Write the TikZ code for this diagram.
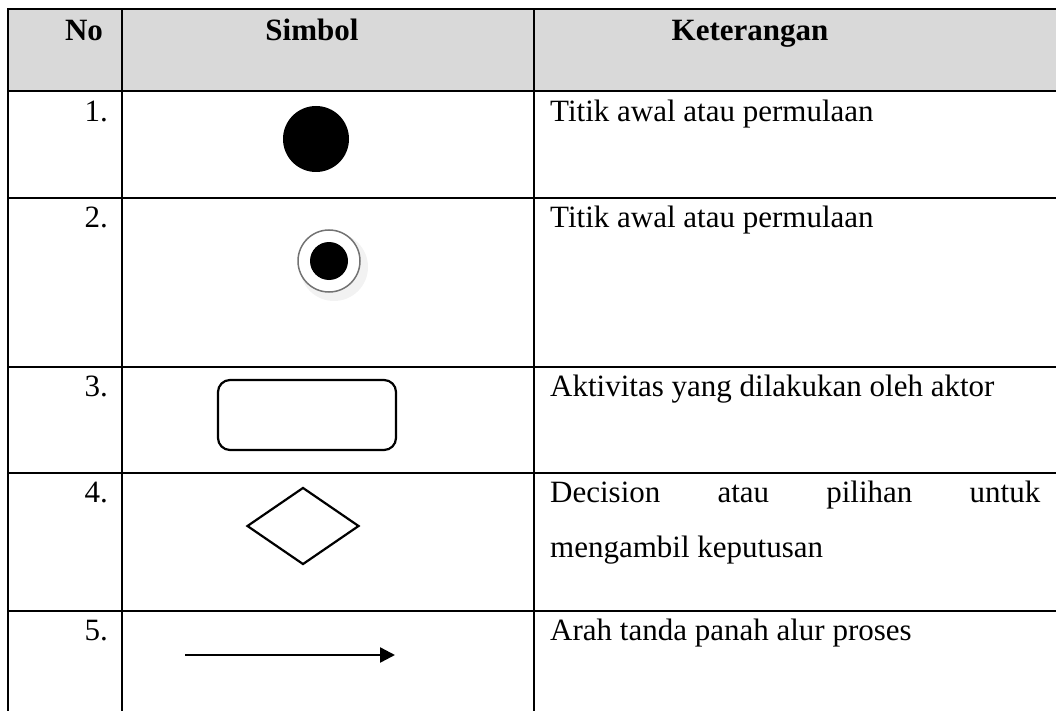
\documentclass[tikz,border=0pt]{standalone}
\usepackage{fontspec}
\setmainfont{Liberation Serif}
\usetikzlibrary{shapes.geometric, arrows.meta}

\begin{document}
\begin{tikzpicture} [
    x = 1pt, y = -1pt,
    grid/.style = {draw, line width=2.2pt},
    hdr/.style = {font=\fontsize{31}{36}\selectfont\bfseries, anchor=base, inner sep=0pt},
    num/.style = {font=\fontsize{31}{36}\selectfont, anchor=base east, inner sep=0pt},
    ket/.style = {font=\fontsize{31}{36}\selectfont, anchor=base west, inner sep=0pt},
    sym/.style = {draw, line width=2.2pt, inner sep=0pt}
    ]
    \useasboundingbox (0,0) rectangle (1056,711);
    
    % table
    \fill[black!15] (8,9) rectangle (1070,91);
    \draw[grid] (8,730) -- (8,9) -- (1070,9);
    \foreach \y in {91,198,367,473,611}
        \draw[grid] (8,\y) -- (1070,\y);
    \foreach \x in {122,534}
        \draw[grid] (\x,9) -- (\x,730);
    
    \node[hdr] (hno) at (84,41) {No};
    \node[hdr] (hsimbol) at (312,41) {Simbol};
    \node[hdr] (hket) at (750,41) {Keterangan};
    
    \foreach \n/\y in {1/122, 2/228, 3/396, 4/502, 5/640}
        \node[num] (no\n) at (108,\y) {\n.};
    
    \node[ket] (ket1) at (550,122) {Titik awal atau permulaan};
    \node[ket] (ket2) at (550,228) {Titik awal atau permulaan};
    \node[ket] (ket3) at (550,396) {Aktivitas yang dilakukan oleh aktor};
    \node[ket] (ket4) at (550,502) {\makebox[490pt][s]{Decision atau pilihan untuk}};
    \node[ket] (ket4b) at (550,557) {mengambil keputusan};
    \node[ket] (ket5) at (550,640) {Arah tanda panah alur proses};
    
    % symbols
    \node[circle, fill, minimum size=66pt, inner sep=0pt] (start) at (316,139) {};
    \fill[black!5] (334,267) circle (34);
    \node[circle, draw=black!55, line width=1.5pt, fill=white, minimum size=62pt, inner sep=0pt] (final) at (329,261) {};
    \node[circle, fill, minimum size=38pt, inner sep=0pt] (finalin) at (final) {};
    \node[sym, rectangle, rounded corners=12pt, minimum width=178pt, minimum height=70pt] (aktivitas) at (307,415) {};
    \node[sym, diamond, minimum width=112pt, minimum height=77pt] (decision) at (303,526) {};
    \coordinate (arrow0) at (185,655);
    \coordinate (arrow1) at (395,655);
    \draw[line width=2.4pt, -{Triangle[length=15pt, width=15pt]}] (arrow0) -- (arrow1);
    
\end{tikzpicture}
\end{document}
